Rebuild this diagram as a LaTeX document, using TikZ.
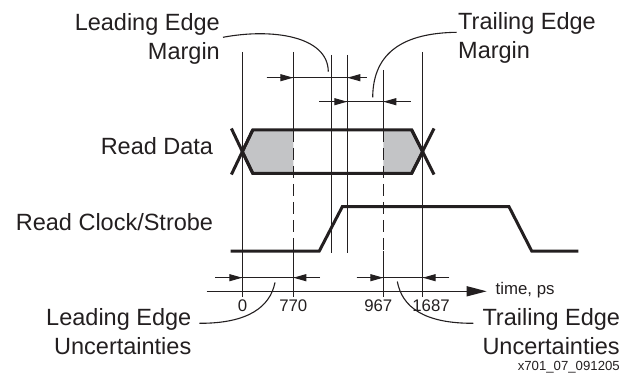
\documentclass[tikz,border=0pt]{standalone}
\usepackage{fontspec}
\setmainfont{Liberation Sans}
\usetikzlibrary{arrows.meta}
\definecolor{ink}{RGB}{35,31,32}
\definecolor{datagray}{RGB}{195,196,198}
\tikzset{
  guide/.style={draw=ink, line width=1.1pt},
  dashguide/.style={draw=ink, line width=1.1pt, dash pattern=on 12pt off 6pt},
  sigline/.style={draw=ink, line width=3pt, line join=miter},
  dimtip/.style={draw=ink, line width=1.1pt, -{Triangle[length=13pt,width=7pt]}},
  axisline/.style={draw=ink, line width=1.4pt, -{Triangle[length=20pt,width=10pt]}},
  callout/.style={draw=ink, line width=1.1pt},
  biglabel/.style={inner sep=0pt, text=ink, font=\fontsize{23.5}{28.4}\selectfont},
  ticklabel/.style={inner sep=0pt, text=ink, font=\fontsize{16.8}{20}\selectfont, anchor=base},
  axislabel/.style={inner sep=0pt, text=ink, font=\fontsize{16.8}{20}\selectfont, anchor=base west},
  figid/.style={inner sep=0pt, text=ink, font=\fontsize{13.2}{16}\selectfont, anchor=base east},
}
\begin{document}
\begin{tikzpicture}[x=1pt,y=-1pt]
\useasboundingbox (0,0) rectangle (623,379);

% ---------- data eye fill ----------
\fill[datagray] (242.3,151.7) -- (252.7,130) -- (293.3,130) -- (293.3,173.3) -- (252.7,173.3) -- cycle;
\fill[datagray] (383.3,130) -- (411.7,130) -- (422.7,151.7) -- (411.7,173.3) -- (383.3,173.3) -- cycle;

% ---------- vertical guide lines ----------
\coordinate (g0t) at (242.3,52);   \coordinate (g0b) at (242.3,297);
\coordinate (g1t) at (293.3,52);   \coordinate (g1m) at (293.3,130);
\coordinate (g1n) at (293.3,251);  \coordinate (g1b) at (293.3,297);
\coordinate (c1t) at (331.7,55);   \coordinate (c1b) at (331.7,252.7);
\coordinate (c2t) at (347.3,55);   \coordinate (c2b) at (347.3,252.7);
\coordinate (g2t) at (383.3,70);   \coordinate (g2m) at (383.3,130);
\coordinate (g2n) at (383.3,251);  \coordinate (g2b) at (383.3,297);
\coordinate (g3t) at (422.7,52);   \coordinate (g3b) at (422.7,297);

\draw[guide] (g0t) -- (g0b);
\draw[guide] (g1t) -- (g1m);
\draw[dashguide] (g1m) -- (g1n);
\draw[guide] (g1n) -- (g1b);
\draw[guide] (c1t) -- (c1b);
\draw[guide] (c2t) -- (c2b);
\draw[guide] (g2t) -- (g2m);
\draw[dashguide] (g2m) -- (g2n);
\draw[guide] (g2n) -- (g2b);
\draw[guide] (g3t) -- (g3b);

% ---------- read data ----------
\draw[sigline] (242.3,151.7) -- (252.7,130) -- (411.7,130) -- (422.7,151.7) -- (411.7,173.3) -- (252.7,173.3) -- cycle;
\draw[sigline] (252.7,173.3) -- (231.4,128.5);
\draw[sigline] (252.7,130) -- (231.4,174.5);
\draw[sigline] (411.7,130) -- (434,174.5);
\draw[sigline] (411.7,173.3) -- (434,128.5);

% ---------- read clock ----------
\draw[sigline] (230.7,251) -- (319.3,251) -- (342.3,206.7) -- (509,206.7) -- (531.7,251) -- (578.3,251);

% ---------- margin dimensions ----------
\coordinate (lmA) at (266.7,77.7); \coordinate (lmB) at (366.7,77.7);
\coordinate (lmT1) at (293.3,77.7); \coordinate (lmT2) at (347.3,77.7);
\draw[guide] (lmA) -- (lmB);
\draw[dimtip] (lmA) -- (lmT1);
\draw[dimtip] (lmB) -- (lmT2);

\coordinate (tmA) at (319.3,101.7); \coordinate (tmB) at (410.7,101.7);
\coordinate (tmT1) at (347.3,101.7); \coordinate (tmT2) at (383.3,101.7);
\draw[guide] (tmA) -- (tmB);
\draw[dimtip] (tmA) -- (tmT1);
\draw[dimtip] (tmB) -- (tmT2);

% ---------- uncertainty dimensions ----------
\coordinate (luA) at (215,277.7); \coordinate (luB) at (320,277.7);
\coordinate (luT1) at (242.3,277.7); \coordinate (luT2) at (293.3,277.7);
\draw[guide] (luA) -- (luB);
\draw[dimtip] (luA) -- (luT1);
\draw[dimtip] (luB) -- (luT2);

\coordinate (tuA) at (356.7,277.7); \coordinate (tuB) at (449.3,277.7);
\coordinate (tuT1) at (383.3,277.7); \coordinate (tuT2) at (422.7,277.7);
\draw[guide] (tuA) -- (tuB);
\draw[dimtip] (tuA) -- (tuT1);
\draw[dimtip] (tuB) -- (tuT2);

% ---------- time axis ----------
\coordinate (axA) at (206.7,291.3);
\coordinate (axB) at (486.7,291.3);
\draw[axisline] (axA) -- (axB);

% ---------- labels (base anchor = baseline of last line) ----------
\node[biglabel, align=right, anchor=base east] (lem) at (220,59.3) {Leading Edge\\Margin};
\node[biglabel, align=left, anchor=base west] (tem) at (458,58.3) {Trailing Edge\\Margin};
\node[biglabel, anchor=base east] (rd) at (213.3,155) {Read Data};
\node[biglabel, anchor=base east] (rc) at (213.3,230) {Read Clock/Strobe};
\node[biglabel, align=right, anchor=base east] (leu) at (191.5,354) {Leading Edge\\Uncertainties};
\node[biglabel, align=left, anchor=base west] (teu) at (482.3,354) {Trailing Edge\\Uncertainties};

\node[ticklabel] (t0) at (242.5,311.7) {0};
\node[ticklabel] (t770) at (293.3,311.7) {770};
\node[ticklabel] (t967) at (378.3,311.7) {967};
\node[ticklabel] (t1687) at (431,311.7) {1687};
\node[axislabel] (tps) at (495.5,294.5) {time, ps};
\node[figid] (fid) at (620,370.5) {x701\_07\_091205};

% ---------- callout curves ----------
\coordinate (lemS) at (223,37.3);  \coordinate (lemE) at (328.3,71.7);
\draw[callout] (lemS) .. controls (272,28) and (328,36) .. (lemE);
\coordinate (temS) at (456.7,32.3); \coordinate (temE) at (372.7,97.3);
\draw[callout] (temS) .. controls (404,33) and (373,52) .. (temE);
\coordinate (leuS) at (199.3,323.3); \coordinate (leuE) at (275,282.5);
\draw[callout] (leuS) .. controls (248,323.5) and (270,307) .. (leuE);
\coordinate (teuS) at (397.3,281.5); \coordinate (teuE) at (473.3,323.3);
\draw[callout] (teuS) .. controls (402,307) and (424,323.5) .. (teuE);
\end{tikzpicture}
\end{document}
